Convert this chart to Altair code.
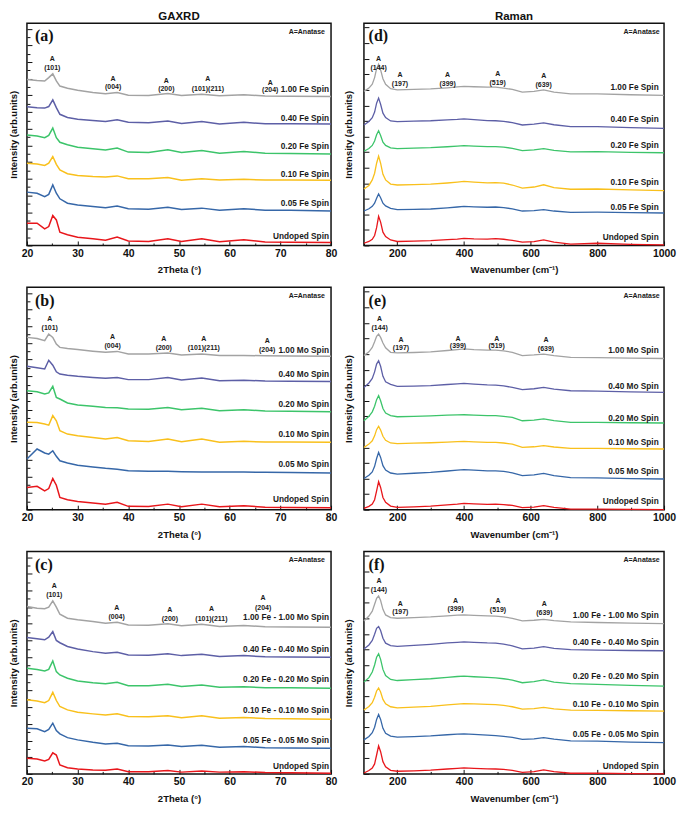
import altair as alt
import pandas as pd

# ---------------- data ----------------
XRD_X = [20, 22, 23.5, 24.3, 25.1, 25.8, 26.5, 28, 30, 33, 35.5, 37.8, 40, 44, 47.8, 50.5,
         54.5, 58, 62.8, 67, 72, 80]
RAMAN_X = [100, 115, 125, 132, 138, 144, 150, 157, 165, 180, 200, 250, 300, 350, 380, 400,
           430, 470, 495, 519, 545, 575, 610, 639, 670, 720, 800, 900, 1000]

COLORS = ["#e8161b", "#3667a8", "#f9c01c", "#3cc46a", "#5d5fa6", "#a3a3a3"]

FE_LABELS = ["Undoped Spin", "0.05 Fe Spin", "0.10 Fe Spin", "0.20 Fe Spin", "0.40 Fe Spin", "1.00 Fe Spin"]
MO_LABELS = ["Undoped Spin", "0.05 Mo Spin", "0.10 Mo Spin", "0.20 Mo Spin", "0.40 Mo Spin", "1.00 Mo Spin"]
FEMO_LABELS = ["Undoped Spin", "0.05 Fe - 0.05 Mo Spin", "0.10 Fe - 0.10 Mo Spin",
               "0.20 Fe - 0.20 Mo Spin", "0.40 Fe - 0.40 Mo Spin", "1.00 Fe - 1.00 Mo Spin"]

# (a) GAXRD Fe
A_VALUES = [
    [10, 10, 7.5, 8.5, 13.5, 11.5, 6, 4.8, 3.7, 3, 2.4, 3.8, 2, 1.8, 3, 1.8, 3, 1.7, 2.6, 1.6, 1.5, 1.3],
    [24, 23.5, 22, 23, 27.2, 23.5, 21, 19, 18.2, 17.5, 17, 17.7, 16.5, 16.3, 17.2, 16.2, 16.8, 15.9, 16.5, 15.9, 15.8, 15.5],
    [37, 36.6, 36, 37, 40, 36.5, 34, 32.3, 31.5, 31, 30.8, 31.3, 30, 30, 30.6, 29.3, 30, 29.4, 29.8, 29.4, 29.4, 29.3],
    [49.7, 49.2, 48.5, 49.5, 52.8, 48.5, 46.4, 45.3, 44.2, 43.5, 43, 43.8, 42, 41.8, 43, 41.8, 42.7, 41.5, 42.3, 41.5, 41.4, 41.2],
    [62.4, 62, 61.8, 62.5, 65.5, 62, 59, 57.6, 56.8, 56.2, 55.8, 56.5, 55.4, 55.2, 56, 54.9, 55.8, 54.6, 55.4, 54.7, 54.7, 54.6],
    [74.7, 74.2, 74, 75.5, 77.2, 74, 71.7, 70.7, 69.8, 68.8, 68.3, 68.8, 67.6, 67.5, 68.3, 67.5, 68, 67.3, 67.8, 67.2, 67.1, 67],
]
# (b) GAXRD Mo
B_VALUES = [
    [10, 10.5, 8.5, 9.5, 14, 11, 5.5, 4.5, 3.7, 3, 2.5, 3.3, 1.5, 1.4, 2.5, 1.3, 2.5, 1.3, 1.8, 1.1, 1, 0.9],
    [22.8, 27.3, 25.5, 25, 26.5, 24, 22, 21, 20, 19.2, 18.6, 18.2, 17.5, 17.3, 17.3, 17.1, 17, 17, 16.9, 16.8, 16.7, 16.5],
    [39.3, 39.2, 38.5, 38, 42.3, 40, 35.5, 34, 33.3, 32.5, 31.8, 32.5, 31, 30.7, 31.8, 30.6, 31.8, 30.3, 30.8, 30.4, 30.4, 30.3],
    [53.5, 53, 52, 52.5, 55.5, 50.5, 49.8, 48, 47.1, 46.5, 46, 45.8, 45.3, 45.2, 46, 45, 45.6, 44.5, 45, 44.4, 44.3, 44.1],
    [64.5, 63.8, 63.3, 67.2, 65, 62, 61, 60.5, 60, 59.5, 59.1, 59.5, 58.5, 58.5, 59.5, 58.3, 59.2, 58, 58.2, 57.9, 57.8, 57.7],
    [77.5, 77, 76, 79, 77.5, 74.5, 73, 72.5, 72, 71.3, 70.8, 71.2, 70, 70, 70.5, 69.6, 70, 69.3, 69.4, 69.2, 69.1, 69],
]
# (c) GAXRD Fe-Mo
C_VALUES = [
    [7, 6.7, 5.8, 6.5, 9.5, 8.5, 4, 2.8, 2.2, 1.8, 1.6, 2.2, 1, 1, 1.5, 0.8, 1.3, 0.8, 1, 0.6, 0.5, 0.3],
    [20.5, 20.3, 19, 20, 22.8, 19.5, 18, 16.3, 15.3, 14.2, 13.5, 13.8, 12.7, 12.6, 13, 12.3, 12.9, 12, 12.3, 11.8, 11.7, 11.5],
    [33.3, 32.8, 32, 33, 36.7, 33, 30.3, 28.8, 27.7, 27, 26.5, 27, 25.8, 25.7, 26.2, 25.3, 26.1, 25, 25.4, 24.9, 24.8, 24.6],
    [47.5, 47, 46.3, 47, 50.8, 46, 44.5, 43, 41.8, 41, 40.5, 41.2, 39.7, 39.6, 40.3, 39.3, 40, 39, 39.2, 38.8, 38.7, 38.5],
    [61.3, 60.8, 60.3, 61.5, 64, 60, 59, 57.3, 56.2, 55, 54.3, 54.7, 53.5, 53.4, 54, 53.2, 53.8, 52.8, 53.2, 52.7, 52.6, 52.5],
    [75.3, 74.5, 74.3, 75, 77.8, 75, 71.8, 70, 69.3, 68.5, 67.8, 68.2, 67, 66.9, 67.5, 66.6, 67.3, 66.3, 66.8, 66.2, 66.1, 66],
]
# (d) Raman Fe
D_VALUES = [
    [1.0, 1.8, 2.8, 4.5, 8, 13.1, 10.5, 6, 4, 2.5, 1.8, 2, 2.2, 2.6, 2.9, 3.2, 3, 2.9, 3.1, 2.8, 2.3, 1.5, 1.7, 2.5, 1.5, 0.6, 1, 0.5, 0.3],
    [15.5, 16.5, 17.6, 19, 21.2, 23.2, 21.5, 19, 17.8, 16.7, 16.1, 16.2, 16.4, 16.9, 17.3, 17.6, 17.4, 17.2, 17.3, 17, 16.5, 15.5, 15.7, 16.1, 15.5, 14.9, 15, 14.8, 14.6],
    [25.4, 27, 29.5, 32.5, 37, 40.2, 37, 32, 29.5, 27.6, 27.2, 27.4, 27.6, 28.1, 28.5, 28.8, 28.5, 28.2, 28.3, 28, 27.2, 25.8, 26.3, 27.3, 26, 25.3, 25.4, 25, 24.7],
    [42.4, 43.6, 45, 47, 49.8, 51.6, 49.5, 46.5, 45, 43.9, 43.6, 43.8, 44, 44.4, 44.7, 44.9, 44.7, 44.5, 44.5, 44.2, 43.7, 42.7, 43, 43.6, 42.8, 42.1, 42.2, 41.9, 41.7],
    [54.2, 55.8, 57.5, 60, 64, 66.3, 63.5, 59.5, 57.5, 56, 55.7, 55.9, 56.1, 56.5, 56.7, 56.9, 56.6, 56.2, 56.1, 55.8, 55.3, 54.2, 54.6, 55.1, 54.3, 53.5, 53.5, 53, 52.7],
    [69.3, 70.8, 72.5, 75.5, 79.5, 81.5, 79, 75, 72.5, 70.5, 70, 70.2, 70.4, 70.9, 71.3, 71.6, 71.4, 71.2, 71.2, 70.8, 70.2, 69, 69.3, 70, 69, 68.2, 68.2, 67.8, 67.5],
]
# (e) Raman Mo
E_VALUES = [
    [0.6, 1.5, 2.5, 4.5, 8.5, 12.6, 10, 5.5, 3.3, 1.6, 1, 1.3, 1.6, 2.2, 2.5, 2.8, 2.6, 2.4, 2.5, 2.3, 1.9, 0.9, 1.2, 1.8, 1, 0.3, 0.3, 0.1, 0],
    [14, 15.5, 17, 19.5, 23, 25.8, 23.5, 19.8, 17.8, 16.5, 16, 16.4, 16.8, 17.4, 17.8, 18, 17.8, 17.5, 17.5, 17.2, 16.6, 15.3, 15.7, 16.3, 15.3, 14.4, 14.3, 14, 13.8],
    [28, 29.5, 31, 33.2, 36, 37.5, 35.8, 33, 31.2, 30, 29.7, 29.9, 30.1, 30.4, 30.6, 30.7, 30.5, 30.3, 30.3, 30, 29.5, 28, 28.3, 28.8, 28.2, 27.6, 27.6, 27.4, 27.3],
    [40, 42, 44, 46.5, 49.5, 51.3, 49, 45.5, 43.5, 42.3, 41.8, 42, 42.2, 42.5, 42.6, 42.7, 42.5, 42.3, 42.3, 42, 41.5, 40, 40.3, 40.8, 40.1, 39.3, 39.3, 39.1, 39],
    [55, 57, 59, 62, 65.5, 67, 64.5, 60, 57.5, 56.4, 55.5, 55.6, 55.8, 56.3, 56.6, 56.8, 56.5, 56.1, 56, 55.7, 55, 54, 54.4, 55, 54.2, 53.5, 53.3, 53, 52.8],
    [69.3, 71, 73, 75.5, 78, 79, 77.5, 75, 72.8, 70.8, 70.5, 70.7, 71, 71.6, 72, 72.3, 72, 71.8, 71.8, 71.4, 70.8, 69.3, 69.6, 70, 69.3, 68.5, 68.4, 68.2, 68],
]
# (f) Raman Fe-Mo
F_VALUES = [
    [0.4, 1.5, 2.6, 4.5, 8.5, 12.6, 10, 5.5, 3.2, 1.6, 1.2, 1.4, 1.7, 2.2, 2.5, 2.7, 2.5, 2.3, 2.2, 2, 1.6, 0.7, 1, 1.8, 1, 0.3, 0.3, 0.1, 0],
    [15.3, 16.8, 18.5, 21, 24.5, 26.7, 24.5, 20.5, 18.3, 17, 16.5, 16.8, 17.1, 17.6, 17.9, 18, 17.8, 17.4, 17.2, 16.9, 16.4, 15.5, 15.8, 16.3, 15.6, 14.9, 14.7, 14.3, 14.1],
    [28.7, 30.3, 32, 34.5, 37.3, 38.6, 36.8, 33.5, 31.5, 30.2, 29.7, 30, 30.4, 31, 31.4, 31.6, 31.5, 31.3, 31.2, 30.8, 30.2, 29.1, 29.4, 29.9, 29.2, 28.7, 28.6, 28.4, 28.2],
    [41.3, 43.3, 45.8, 49, 52.5, 54, 51.5, 47, 44.2, 42.5, 42, 42.4, 42.8, 43.4, 43.8, 44, 43.7, 43.4, 43.2, 42.8, 42.2, 41, 41.5, 42.3, 41.3, 40.6, 40.3, 39.8, 39.5],
    [56.2, 58, 60, 62.8, 65.5, 66.3, 64.5, 61, 58.8, 57.7, 57.4, 57.8, 58.3, 58.9, 59.2, 59.4, 59.2, 58.9, 58.8, 58.4, 57.6, 56.2, 56.6, 57.2, 56.5, 55.9, 55.7, 55.5, 55.4],
    [68.8, 71, 73.2, 76.3, 79, 80, 78, 74, 71.5, 70.3, 70, 70.3, 70.6, 71.1, 71.4, 71.5, 71.3, 71.1, 71, 70.6, 70, 68.8, 69.1, 69.5, 68.9, 68.4, 68.1, 67.8, 67.6],
]

# series label heights (bottom to top)
A_LABEL_Y = [4, 18.6, 31.5, 44.2, 56.8, 69.8]
B_LABEL_Y = [4.3, 20.1, 33.7, 47.1, 60.6, 71.5]
C_LABEL_Y = [3.3, 15, 28.3, 42.3, 55.8, 70]
D_LABEL_Y = [3.2, 17, 27.9, 44.9, 56.4, 70.8]
E_LABEL_Y = [3.3, 17, 30, 41, 55, 71.5]
F_LABEL_Y = [3, 17.5, 31.2, 43.4, 58.8, 71]

# peak annotations
XRD_PEAKS = ["(101)", "(004)", "(200)", "(101)(211)", "(204)"]
RAMAN_PEAKS = ["(144)", "(197)", "(399)", "(519)", "(639)"]
A_PEAK_X = [25, 37, 47.5, 55.7, 68]
A_PEAK_A = [84, 74.7, 74, 74.7, 73.2]
A_PEAK_H = [80, 71.3, 70.5, 70.5, 69.8]
B_PEAK_X = [24.5, 36.9, 47, 54.9, 67.4]
B_PEAK_A = [85.8, 77.5, 76.8, 76.8, 75.7]
B_PEAK_H = [81.6, 73.5, 72.7, 72.7, 71.8]
C_PEAK_X = [25.4, 37.7, 48.2, 56.4, 66.6]
C_PEAK_A = [84.6, 74.5, 73.8, 74.1, 79]
C_PEAK_H = [80.5, 70.5, 69.7, 69.7, 74.8]
D_PEAK_X = [144, 208, 351, 501, 639]
D_PEAK_A = [83.7, 76.7, 76.7, 77.1, 76.4]
D_PEAK_H = [80, 72.7, 72.7, 73.1, 72.4]
E_PEAK_X = [147, 211, 382, 498, 646]
E_PEAK_A = [85.8, 76.5, 76.8, 76.8, 76.5]
E_PEAK_H = [81.6, 72.6, 73.8, 73.8, 72.3]
F_PEAK_X = [145, 209, 375, 502, 641]
F_PEAK_A = [86.6, 76.2, 77.7, 77.7, 76.2]
F_PEAK_H = [82.9, 72.8, 74, 73.7, 72.5]

XRD_TICK_LABELS = [20, 30, 40, 50, 60, 70, 80]
RAMAN_TICK_LABELS = [200, 400, 600, 800, 1000]

# ---------------- styling / layout ----------------
FONT = "Liberation Sans"
H = 223
SERIES_KEYS = ["0", "1", "2", "3", "4", "5"]

SETTINGS = {
    "xrd": dict(xs=XRD_X, domain=[20, 80], labels=XRD_TICK_LABELS,
                major=[20, 30, 40, 50, 60, 70, 80], minor=[25, 35, 45, 55, 65, 75],
                label_x=79.6, letter_x=21.6, anatase_x=78.8, title="2Theta (°)",
                width=305, ytitle_pad=8, stroke=1.5),
    "raman": dict(xs=RAMAN_X, domain=[100, 1000], labels=RAMAN_TICK_LABELS,
                  major=[200, 400, 600, 800, 1000], minor=[100, 300, 500, 700, 900],
                  label_x=984, letter_x=114, anatase_x=987, title="Wavenumber (cm⁻¹)",
                  width=301, ytitle_pad=10, stroke=1.3),
}


def panel(kind, values, labels, label_y, peak_names, peak_x, peak_a, peak_h, letter, title=None):
    s = SETTINGS[kind]
    W = s["width"]
    rows = []
    for key, vals in zip(SERIES_KEYS, values):
        for x, y in zip(s["xs"], vals):
            rows.append({"x": x, "y": y, "k": key})
    df = pd.DataFrame(rows)
    lab_df = pd.DataFrame({"x": [s["label_x"]] * len(labels), "y": label_y, "t": labels})
    ann_rows = []
    for name, px, pa, ph in zip(peak_names, peak_x, peak_a, peak_h):
        ann_rows.append({"x": px, "y": pa, "t": "A"})
        ann_rows.append({"x": px, "y": ph, "t": name})
    ann_df = pd.DataFrame(ann_rows)
    misc_df = pd.DataFrame({"x": [s["anatase_x"]], "y": [96], "t": ["A=Anatase"]})
    let_df = pd.DataFrame({"x": [s["letter_x"]], "y": [94], "t": [letter]})

    xs_scale = alt.Scale(domain=s["domain"], nice=False, zero=False)
    ys_scale = alt.Scale(domain=[0, 100], nice=False, zero=False)

    if kind == "xrd":
        y_major = [i * 7.5 for i in range(14)]
        y_minor = [3.75 + i * 7.5 for i in range(13)]
    else:
        y_major = [i * 7 for i in range(15)]
        y_minor = []

    def X(axis):
        return alt.X("x:Q", scale=xs_scale, axis=axis)

    def Y(axis):
        return alt.Y("y:Q", scale=ys_scale, axis=axis)

    main_x = alt.Axis(orient="bottom", values=s["labels"], format="d", ticks=False, domain=False,
                      grid=False, title=s["title"], labelFont=FONT, labelFontSize=10.5,
                      labelFontWeight="bold", labelColor="#111", labelPadding=3, labelFlush=False,
                      labelOverlap=False, titleFont=FONT, titleFontSize=9.5, titleFontWeight="bold",
                      titleColor="#111", titlePadding=6)
    main_y = alt.Axis(orient="left", labels=False, ticks=False, domain=False, grid=False,
                      title="Intensity (arb.units)", titleFont=FONT, titleFontSize=9.5,
                      titleFontWeight="bold", titleColor="#111", titlePadding=s["ytitle_pad"])

    def tick_x(vals, size):
        return alt.Axis(orient="top", offset=-H, values=vals, labels=False, title=None, domain=False,
                        grid=False, ticks=True, tickSize=size, tickColor="#111", tickWidth=1)

    def tick_y(vals, size):
        return alt.Axis(orient="right", offset=-W, values=vals, labels=False, title=None, domain=False,
                        grid=False, ticks=True, tickSize=size, tickColor="#111", tickWidth=1)

    lines = alt.Chart(df).mark_line(strokeWidth=s["stroke"]).encode(
        x=X(main_x), y=Y(main_y),
        color=alt.Color("k:N", scale=alt.Scale(domain=SERIES_KEYS, range=COLORS), legend=None),
    )
    label_layer = alt.Chart(lab_df).mark_text(
        align="right", baseline="middle", font=FONT, fontSize=8.3, fontWeight="bold", color="#1a1a1a"
    ).encode(x=X(tick_x(s["major"], 4.5)), y=Y(tick_y(y_major, 5)), text="t:N")
    ann_layer = alt.Chart(ann_df).mark_text(
        align="center", baseline="middle", font=FONT, fontSize=7, fontWeight="bold", color="#1a1a1a"
    ).encode(x=X(tick_x(s["minor"], 2.5)),
             y=Y(tick_y(y_minor, 3) if y_minor else None), text="t:N")
    misc_layer = alt.Chart(misc_df).mark_text(
        align="right", baseline="middle", font=FONT, fontSize=7, fontWeight="bold", color="#1a1a1a"
    ).encode(x=X(None), y=Y(None), text="t:N")
    let_layer = alt.Chart(let_df).mark_text(
        align="left", baseline="middle", font="Liberation Serif", fontSize=16, fontWeight="bold",
        color="#111"
    ).encode(x=X(None), y=Y(None), text="t:N")

    props = dict(width=W, height=H)
    if title:
        props["title"] = alt.TitleParams(title, font=FONT, fontSize=11.5, fontWeight="bold",
                                         color="#111", anchor="middle", offset=1)
    return alt.layer(lines, label_layer, ann_layer, misc_layer, let_layer).resolve_axis(
        x="independent", y="independent").properties(**props)


pa = panel("xrd", A_VALUES, FE_LABELS, A_LABEL_Y, XRD_PEAKS, A_PEAK_X, A_PEAK_A, A_PEAK_H, "(a)", "GAXRD")
pd_ = panel("raman", D_VALUES, FE_LABELS, D_LABEL_Y, RAMAN_PEAKS, D_PEAK_X, D_PEAK_A, D_PEAK_H, "(d)", "Raman")
pb = panel("xrd", B_VALUES, MO_LABELS, B_LABEL_Y, XRD_PEAKS, B_PEAK_X, B_PEAK_A, B_PEAK_H, "(b)")
pe = panel("raman", E_VALUES, MO_LABELS, E_LABEL_Y, RAMAN_PEAKS, E_PEAK_X, E_PEAK_A, E_PEAK_H, "(e)")
pc = panel("xrd", C_VALUES, FEMO_LABELS, C_LABEL_Y, XRD_PEAKS, C_PEAK_X, C_PEAK_A, C_PEAK_H, "(c)")
pf = panel("raman", F_VALUES, FEMO_LABELS, F_LABEL_Y, RAMAN_PEAKS, F_PEAK_X, F_PEAK_A, F_PEAK_H, "(f)")

chart = alt.concat(pa, pd_, pb, pe, pc, pf, columns=2,
                   spacing={"row": 42, "column": 33}, bounds="flush").properties(
    padding=0, background="white"
).configure_view(stroke="#111", strokeWidth=1.5)

chart.save("out.html", embed_options={"renderer": "svg", "actions": False})
